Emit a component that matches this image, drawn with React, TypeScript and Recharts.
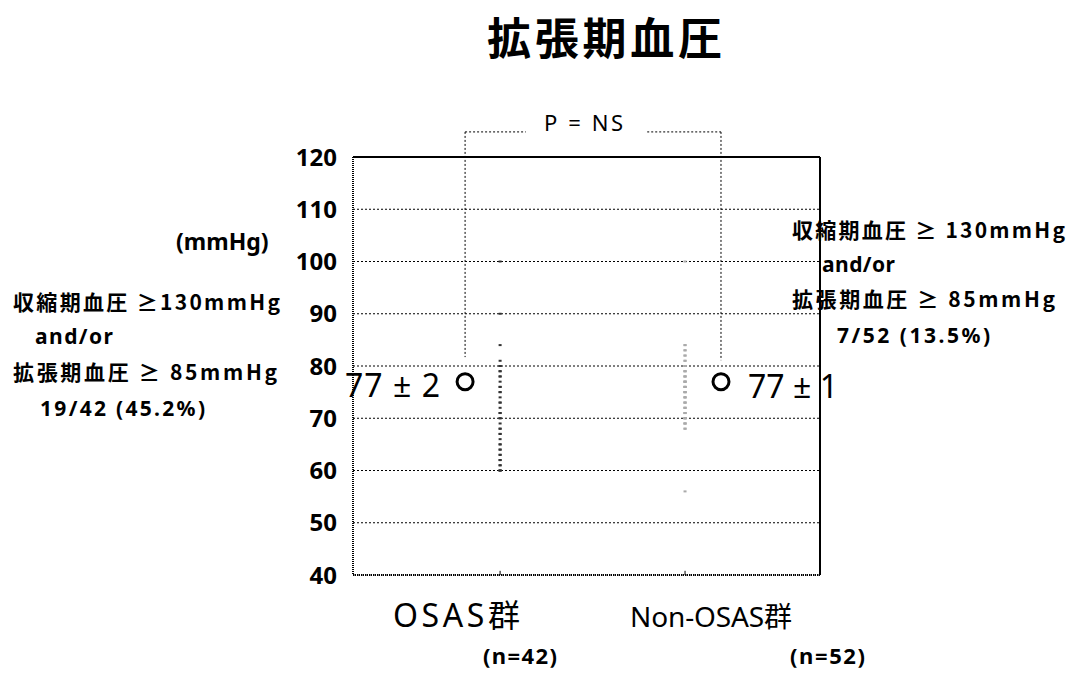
import {
  ComposedChart,
  CartesianGrid,
  XAxis,
  YAxis,
  Scatter,
  ReferenceLine,
} from "recharts";

// y axis
const yTicks = [40, 50, 60, 70, 80, 90, 100, 110, 120];

// group positions on the (hidden) numeric x axis, 0..10
const groupNames = ["OSAS群", "Non-OSAS群"];
const groupSizes = ["(n=42)", "(n=52)"];
const groupX = [3.15, 7.11];
const meanX = [2.4, 7.88];
const means = [77, 77];
const meanLabels = ["77 ± 2", "77 ± 1"];

// individual diastolic values
const osasValues = [
  100, 90, 84, 81, 80, 80, 79, 79, 78, 78, 77, 76, 76, 75, 75, 74, 73, 73, 72,
  71, 71, 70, 70, 69, 68, 68, 67, 67, 66, 65, 65, 64, 64, 63, 63, 62, 62, 61,
  61, 60, 60, 60,
];
const nonOsasValues = [
  100, 84, 84, 83, 83, 82, 82, 81, 81, 80, 80, 80, 79, 79, 79, 78, 78, 78, 77,
  77, 77, 77, 76, 76, 76, 76, 75, 75, 75, 75, 74, 74, 74, 73, 73, 73, 72, 72,
  72, 71, 71, 71, 70, 70, 70, 70, 69, 69, 69, 68, 68, 56,
];

// bracket between the two means
const bracketTop = 124.8;
const bracketEnds = [81.7, 81.1];
const bracketGap = [3.7, 6.3];

const osasPts = osasValues.map((y) => ({ x: groupX[0], y }));
const nonOsasPts = nonOsasValues.map((y) => ({ x: groupX[1], y }));
const meanPts = means.map((y, i) => ({ x: meanX[i], y }));

const FONT = "'Noto Sans CJK JP', 'Noto Sans', sans-serif";
const LATIN = "'Noto Sans', 'Noto Sans CJK JP', sans-serif";

function Dash(props: any) {
  const { cx, cy, fill } = props;
  if (cx == null || cy == null) return null;
  return <rect x={cx - 1.5} y={cy - 1} width={3} height={2} fill={fill} />;
}

function OpenCircle(props: any) {
  const { cx, cy } = props;
  if (cx == null || cy == null) return null;
  return (
    <circle cx={cx} cy={cy} r={8} fill="#fff" stroke="#000" strokeWidth={3} />
  );
}

const dotted = "2 2";

export default function App() {
  return (
    <div
      style={{
        position: "absolute",
        left: 0,
        top: 0,
        width: 1073,
        height: 683,
        background: "#fff",
      }}
    >
      <ComposedChart
        width={1073}
        height={683}
        margin={{ top: 157, right: 253, bottom: 108, left: 293 }}
      >
        <CartesianGrid
          horizontal
          vertical={false}
          stroke="#000"
          strokeDasharray={dotted}
          strokeWidth={1}
        />
        <XAxis type="number" dataKey="x" domain={[0, 10]} hide />
        <YAxis
          type="number"
          dataKey="y"
          domain={[40, 120]}
          ticks={yTicks}
          width={60}
          tickLine={false}
          tickSize={0}
          tickMargin={16}
          axisLine={{ stroke: "#000", strokeDasharray: "1 1", strokeWidth: 2 }}
          tick={{ fill: "#000", fontSize: 24, fontWeight: 700, fontFamily: LATIN }}
        />
        <ReferenceLine y={120} stroke="#000" strokeWidth={2} />
        <ReferenceLine y={40} stroke="#000" strokeWidth={2} strokeDasharray="1 1" />
        <ReferenceLine x={10} stroke="#000" strokeWidth={2} />
        {groupX.map((gx) => (
          <ReferenceLine
            key={gx}
            segment={[
              { x: gx, y: 40 },
              { x: gx, y: 40.8 },
            ]}
            stroke="#000"
            strokeWidth={1}
          />
        ))}
        {/* P = NS bracket */}
        {meanX.map((mx, i) => (
          <ReferenceLine
            key={"v" + i}
            segment={[
              { x: mx, y: bracketTop },
              { x: mx, y: bracketEnds[i] },
            ]}
            ifOverflow="visible"
            stroke="#000"
            strokeDasharray={dotted}
          />
        ))}
        <ReferenceLine
          segment={[
            { x: meanX[0], y: bracketTop },
            { x: bracketGap[0], y: bracketTop },
          ]}
          ifOverflow="visible"
          stroke="#000"
          strokeDasharray={dotted}
        />
        <ReferenceLine
          segment={[
            { x: bracketGap[1], y: bracketTop },
            { x: meanX[1], y: bracketTop },
          ]}
          ifOverflow="visible"
          stroke="#000"
          strokeDasharray={dotted}
        />
        <Scatter
          data={osasPts}
          dataKey="y"
          fill="#333"
          shape={<Dash />}
          isAnimationActive={false}
        />
        <Scatter
          data={nonOsasPts}
          dataKey="y"
          fill="#aaa"
          shape={<Dash />}
          isAnimationActive={false}
        />
        <Scatter
          data={meanPts}
          dataKey="y"
          fill="#fff"
          shape={<OpenCircle />}
          isAnimationActive={false}
        />
      </ComposedChart>

      <svg
        width={1073}
        height={683}
        style={{ position: "absolute", left: 0, top: 0, pointerEvents: "none" }}
        fontFamily={FONT}
      >
        <text x={487} y={55} fontSize={44} fontWeight={700} textLength={235}>
          拡張期血圧
        </text>
        <text x={544} y={131} fontSize={22} fontFamily={LATIN} textLength={79}>
          P = NS
        </text>
        <text x={176} y={250} fontSize={23} fontFamily={LATIN} fontWeight={700}>
          (mmHg)
        </text>

        <g fontSize={21} fontWeight={700}>
          <text x={13} y={310} textLength={267}>
            収縮期血圧 ≥130mmHg
          </text>
          <text x={35} y={344} fontFamily={LATIN} textLength={78}>
            and/or
          </text>
          <text x={13} y={380} textLength={264}>
            拡張期血圧 ≥ 85mmHg
          </text>
          <text x={40} y={416} fontFamily={LATIN} textLength={165}>
            19/42 (45.2%)
          </text>

          <text x={792} y={238} textLength={273}>
            収縮期血圧 ≥ 130mmHg
          </text>
          <text x={822} y={272} fontFamily={LATIN} textLength={73}>
            and/or
          </text>
          <text x={792} y={307} textLength={263}>
            拡張期血圧 ≥ 85mmHg
          </text>
          <text x={837} y={343} fontFamily={LATIN} textLength={153}>
            7/52 (13.5%)
          </text>
        </g>

        <g fontFamily={LATIN} fontSize={32}>
          <text x={345} y={397} textLength={95}>
            {meanLabels[0]}
          </text>
          <text x={748} y={398} textLength={90}>
            {meanLabels[1]}
          </text>
        </g>
        <g fontFamily={LATIN}>
          <text x={393} y={627} fontSize={32} textLength={127}>
            {groupNames[0]}
          </text>
          <text x={630} y={627} fontSize={28} textLength={162}>
            {groupNames[1]}
          </text>
        </g>
        <g fontFamily={LATIN} fontSize={22} fontWeight={700}>
          <text x={483} y={664} textLength={74}>
            {groupSizes[0]}
          </text>
          <text x={790} y={664} textLength={75}>
            {groupSizes[1]}
          </text>
        </g>
      </svg>
    </div>
  );
}
